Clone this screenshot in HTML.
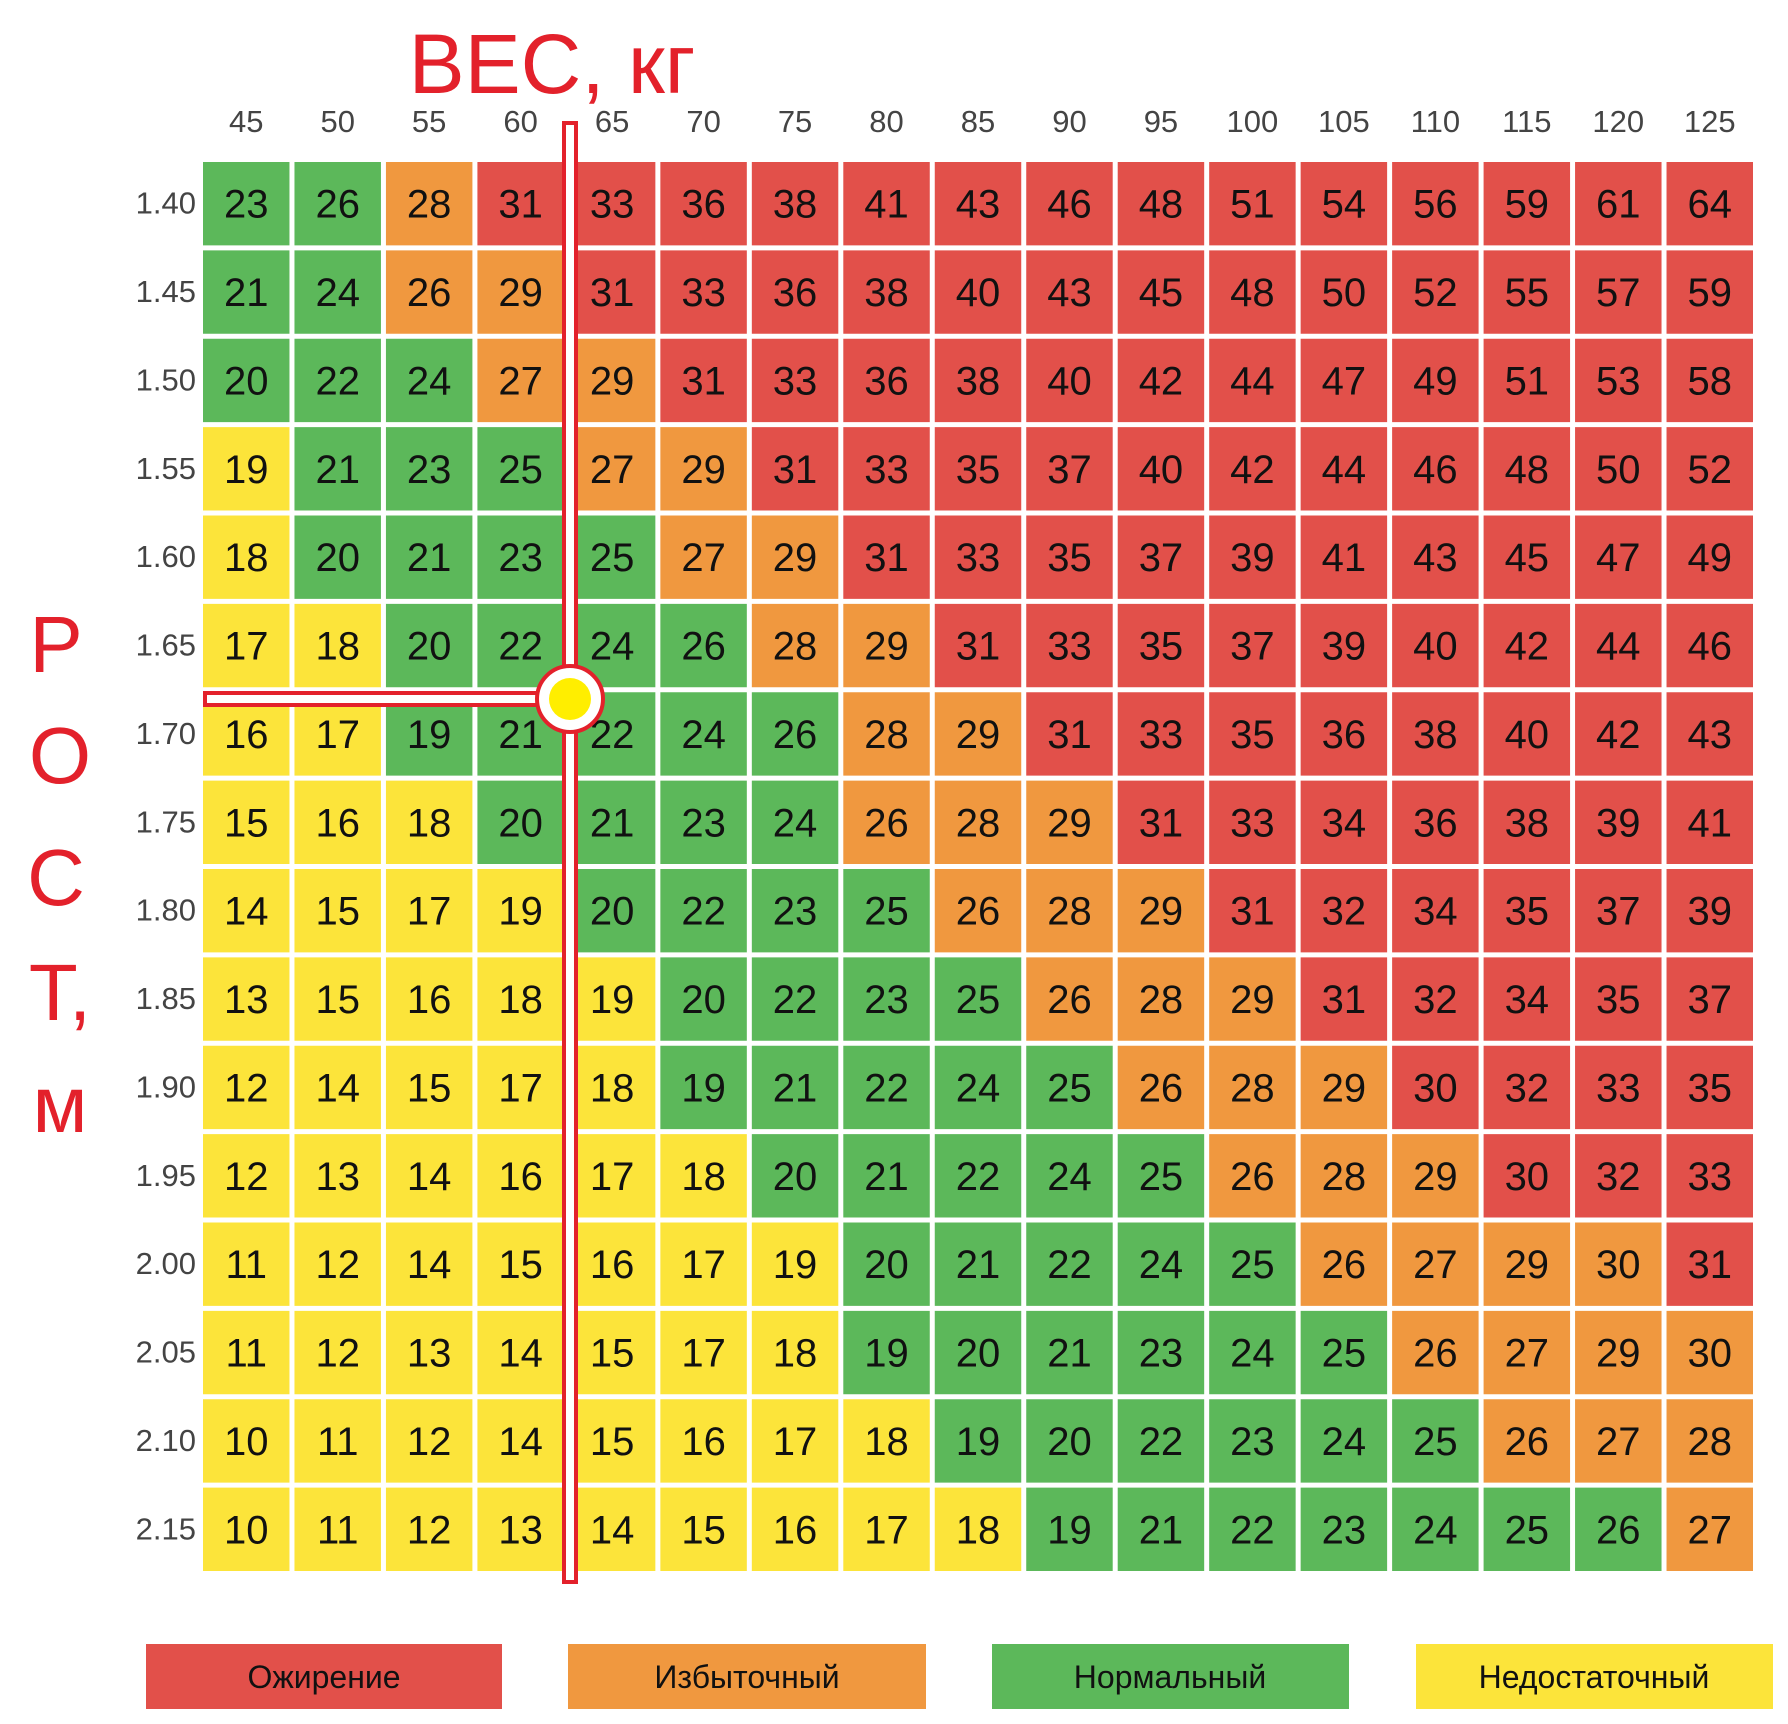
<!DOCTYPE html>
<html><head><meta charset="utf-8"><style>
html,body{margin:0;padding:0;background:#fff;}
svg{display:block;font-family:"Liberation Sans Narrow","Liberation Sans",sans-serif;}
</style></head><body>
<svg id="chart" width="1788" height="1724" viewBox="0 0 1788 1724" xmlns="http://www.w3.org/2000/svg">
<text x="552" y="93" text-anchor="middle" font-size="84" fill="#e3212b" font-family="Liberation Sans, sans-serif">ВЕС, кг</text>
<g font-size="80" fill="#e3212b" text-anchor="middle" font-family="Liberation Sans, sans-serif">
<text x="56" y="672">Р</text><text x="60" y="783">О</text><text x="56" y="905">С</text><text x="60" y="1020">Т,</text><text x="60" y="1132">м</text>
</g>
<g id="cells"></g>
<g id="xlabels"></g>
<g id="ylabels"></g>
<g>
<rect x="564" y="123" width="12" height="1459" fill="#fff" stroke="#e3212b" stroke-width="4"/>
<rect x="205" y="693" width="365" height="12" fill="#fff" stroke="#e3212b" stroke-width="4"/>
<circle cx="570" cy="699" r="33" fill="#fff" stroke="#e3212b" stroke-width="4"/>
<circle cx="570" cy="699" r="21" fill="#ffee00"/>
</g>
<g font-size="32" text-anchor="middle" fill="#111">
<rect x="146" y="1644" width="356" height="65" fill="#e2504a"/>
<text x="324" y="1688">Ожирение</text>
<rect x="568" y="1644" width="358" height="65" fill="#f0983f"/>
<text x="747" y="1688">Избыточный</text>
<rect x="992" y="1644" width="357" height="65" fill="#5cb85a"/>
<text x="1170" y="1688">Нормальный</text>
<rect x="1416" y="1644" width="357" height="65" fill="#fce43a"/>
<text x="1594" y="1688">Недостаточный</text>
</g>
</svg>
<script>
const weights = [45,50,55,60,65,70,75,80,85,90,95,100,105,110,115,120,125];
const heights = ["1.40","1.45","1.50","1.55","1.60","1.65","1.70","1.75","1.80","1.85","1.90","1.95","2.00","2.05","2.10","2.15"];
const bmiValues = [
[23,26,28,31,33,36,38,41,43,46,48,51,54,56,59,61,64],
[21,24,26,29,31,33,36,38,40,43,45,48,50,52,55,57,59],
[20,22,24,27,29,31,33,36,38,40,42,44,47,49,51,53,58],
[19,21,23,25,27,29,31,33,35,37,40,42,44,46,48,50,52],
[18,20,21,23,25,27,29,31,33,35,37,39,41,43,45,47,49],
[17,18,20,22,24,26,28,29,31,33,35,37,39,40,42,44,46],
[16,17,19,21,22,24,26,28,29,31,33,35,36,38,40,42,43],
[15,16,18,20,21,23,24,26,28,29,31,33,34,36,38,39,41],
[14,15,17,19,20,22,23,25,26,28,29,31,32,34,35,37,39],
[13,15,16,18,19,20,22,23,25,26,28,29,31,32,34,35,37],
[12,14,15,17,18,19,21,22,24,25,26,28,29,30,32,33,35],
[12,13,14,16,17,18,20,21,22,24,25,26,28,29,30,32,33],
[11,12,14,15,16,17,19,20,21,22,24,25,26,27,29,30,31],
[11,12,13,14,15,17,18,19,20,21,23,24,25,26,27,29,30],
[10,11,12,14,15,16,17,18,19,20,22,23,24,25,26,27,28],
[10,11,12,13,14,15,16,17,18,19,21,22,23,24,25,26,27]
];
const categories = [
"GGORRRRRRRRRRRRRR","GGOORRRRRRRRRRRRR","GGGOORRRRRRRRRRRR","YGGGOORRRRRRRRRRR",
"YGGGGOORRRRRRRRRR","YYGGGGOORRRRRRRRR","YYGGGGGOORRRRRRRR","YYYGGGGOOORRRRRRR",
"YYYYGGGGOOORRRRRR","YYYYYGGGGOOORRRRR","YYYYYGGGGGOOORRRR","YYYYYYGGGGGOOORRR",
"YYYYYYYGGGGGOOOOR","YYYYYYYGGGGGGOOOO","YYYYYYYYGGGGGGOOO","YYYYYYYYYGGGGGGGO"
];
const colorMap = {R:"#e2504a",O:"#f0983f",G:"#5cb85a",Y:"#fce43a"};
const NS="http://www.w3.org/2000/svg";
const x0=203, y0=162, colPitch=(1758-203)/weights.length, rowPitch=(1576-162)/heights.length, gap=5;
function xPos(i){return x0+i*colPitch;}
function yPos(j){return y0+j*rowPitch;}
const cells=document.getElementById('cells');
heights.forEach((h,j)=>{
  weights.forEach((w,i)=>{
    const r=document.createElementNS(NS,'rect');
    
    
    r.setAttribute('x',xPos(i)); r.setAttribute('y',yPos(j));
    r.setAttribute('width',colPitch-gap); r.setAttribute('height',rowPitch-gap);
    r.setAttribute('fill',colorMap[categories[j][i]]);
    cells.appendChild(r);
    const t=document.createElementNS(NS,'text');
    
    
    t.setAttribute('x',xPos(i)+(colPitch-gap)/2); t.setAttribute('y',yPos(j)+(rowPitch-gap)/2+14);
    t.setAttribute('text-anchor','middle'); t.setAttribute('font-size','40'); t.setAttribute('fill','#111');
    t.textContent=bmiValues[j][i];
    cells.appendChild(t);
  });
});
const xl=document.getElementById('xlabels');
weights.forEach((w,i)=>{
  const t=document.createElementNS(NS,'text');
  
  
  t.setAttribute('x',xPos(i)+(colPitch-gap)/2); t.setAttribute('y',132);
  t.setAttribute('text-anchor','middle'); t.setAttribute('font-size','31'); t.setAttribute('fill','#444');
  t.textContent=w; xl.appendChild(t);
});
const yl=document.getElementById('ylabels');
heights.forEach((h,j)=>{
  const t=document.createElementNS(NS,'text');
  
  
  t.setAttribute('x',196); t.setAttribute('y',yPos(j)+(rowPitch-gap)/2+10);
  t.setAttribute('text-anchor','end'); t.setAttribute('font-size','31'); t.setAttribute('fill','#444');
  t.textContent=h; yl.appendChild(t);
});
</script>
</body></html>
